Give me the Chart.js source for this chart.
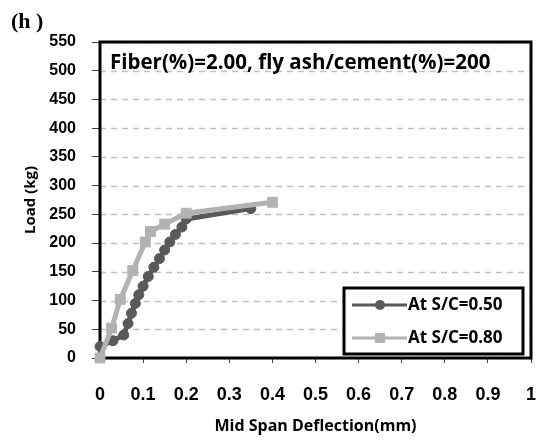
<!DOCTYPE html>
<html>
<head>
<meta charset="utf-8">
<script src="https://cdn.jsdelivr.net/npm/chart.js@4.4.0/dist/chart.umd.min.js"></script>
<style>
  html, body { margin: 0; padding: 0; background: #fff; }
  #wrap { width: 543px; height: 442px; position: relative; }
</style>
</head>
<body>
<div id="wrap"><canvas id="loadChart" width="543" height="442"></canvas></div>
<script>
// Mid span deflection (mm) vs load (kg)
const seriesNames = ['At S/C=0.50', 'At S/C=0.80'];

const deflection050 = [0, 0.03, 0.055, 0.065, 0.073, 0.082, 0.09, 0.1, 0.112, 0.125, 0.138, 0.15, 0.162, 0.175, 0.19, 0.2, 0.35];
const load050 = [20, 30, 40, 60, 78, 95, 110, 125, 142, 158, 173, 188, 202, 215, 228, 242, 260];

const deflection080 = [0, 0.027, 0.047, 0.076, 0.105, 0.117, 0.15, 0.2, 0.4];
const load080 = [0, 52, 102, 152, 202, 220, 233, 252, 271];

const xTickLabels = ['0', '0.1', '0.2', '0.3', '0.4', '0.5', '0.6', '0.7', '0.8', '0.9', '1'];
const yTickLabels = ['0', '50', '100', '150', '200', '250', '300', '350', '400', '450', '500', '550'];

const chartTitle = 'Fiber(%)=2.00, fly ash/cement(%)=200';
const panelLabel = '(h )';

const darkGrey = '#595959';
const lightGrey = '#b2b2b2';

function toPoints(xs, ys) {
  return xs.map((x, i) => ({ x: x, y: ys[i] }));
}

// dashed grid, frame, inner title, legend box and panel label
const decorations = {
  id: 'decorations',
  beforeDatasetsDraw(chart) {
    const { ctx, chartArea: a } = chart;
    const yScale = chart.scales.y;
    ctx.save();
    ctx.strokeStyle = '#c0c0c0';
    ctx.lineWidth = 1.5;
    ctx.setLineDash([6, 5]);
    yScale.ticks.forEach(t => {
      const py = Math.round(yScale.getPixelForValue(t.value)) + 0.5;
      ctx.beginPath();
      ctx.moveTo(a.left, py);
      ctx.lineTo(a.right, py);
      ctx.stroke();
    });
    ctx.setLineDash([]);
    ctx.strokeStyle = '#000';
    ctx.lineWidth = 3;
    ctx.strokeRect(a.left, a.top, a.right - a.left, a.bottom - a.top);
    ctx.fillStyle = '#000';
    ctx.font = 'bold 20.5px "Open Sans"';
    ctx.textBaseline = 'middle';
    ctx.textAlign = 'left';
    ctx.fillText(chartTitle, a.left + 10, a.top + 21);
    ctx.restore();
  },
  afterDatasetsDraw(chart) {
    const { ctx } = chart;
    ctx.save();
    // legend box
    const bx = 344, by = 288, bw = 179, bh = 66;
    ctx.fillStyle = '#fff';
    ctx.fillRect(bx, by, bw, bh);
    ctx.strokeStyle = '#000';
    ctx.lineWidth = 3;
    ctx.strokeRect(bx, by, bw, bh);
    const rows = [by + 17, by + 50];
    chart.data.datasets.forEach((ds, i) => {
      const y = rows[i];
      ctx.strokeStyle = ds.borderColor;
      ctx.lineWidth = 3;
      ctx.beginPath();
      ctx.moveTo(bx + 8, y);
      ctx.lineTo(bx + 63, y);
      ctx.stroke();
      ctx.fillStyle = ds.borderColor;
      if (ds.pointStyle === 'rect') {
        ctx.fillRect(bx + 31, y - 5, 10, 10);
      } else {
        ctx.beginPath();
        ctx.arc(bx + 36, y, 5, 0, Math.PI * 2);
        ctx.fill();
      }
      ctx.fillStyle = '#000';
      ctx.font = 'bold 17px "Open Sans"';
      ctx.textBaseline = 'middle';
      ctx.fillText(ds.label, bx + 64, y);
    });
    // panel label
    ctx.font = 'bold 22px "Liberation Serif"';
    ctx.textBaseline = 'alphabetic';
    ctx.fillStyle = '#000';
    ctx.fillText(panelLabel, 11, 28);
    ctx.restore();
  }
};

window.onload = function () {
  const ctx = document.getElementById('loadChart').getContext('2d');
  new Chart(ctx, {
    type: 'scatter',
    data: {
      datasets: [
        {
          label: seriesNames[0],
          data: toPoints(deflection050, load050),
          showLine: true,
          borderColor: darkGrey,
          backgroundColor: darkGrey,
          borderWidth: 5,
          pointStyle: 'circle',
          pointRadius: 5,
          pointBorderWidth: 1,
          clip: false,
          order: 1
        },
        {
          label: seriesNames[1],
          data: toPoints(deflection080, load080),
          showLine: true,
          borderColor: lightGrey,
          backgroundColor: lightGrey,
          borderWidth: 5,
          pointStyle: 'rect',
          pointRadius: 7,
          pointBorderWidth: 1,
          clip: false,
          order: 0
        }
      ]
    },
    options: {
      responsive: false,
      animation: false,
      layout: { padding: { left: 0, right: 12, top: 42, bottom: 0 } },
      plugins: {
        legend: { display: false },
        tooltip: { enabled: false }
      },
      scales: {
        x: {
          type: 'linear',
          min: 0,
          max: 1,
          afterFit(scale) {
            scale.height = 84;
            // keep the last label from shrinking the plot
            scale.paddingLeft = 0;
            scale.paddingRight = 12;
          },
          afterBuildTicks(scale) {
            scale.ticks = xTickLabels.map(t => ({ value: parseFloat(t) }));
          },
          ticks: {
            autoSkip: false,
            maxRotation: 0,
            padding: 21,
            color: '#000',
            font: { family: 'Liberation Sans', size: 18, weight: 'bold' },
            callback: (v, i) => xTickLabels[i]
          },
          grid: { drawOnChartArea: false, drawTicks: true, tickLength: 5, tickColor: '#404040' },
          border: { display: false },
          title: {
            display: true,
            text: 'Mid Span Deflection(mm)',
            color: '#000',
            font: { family: 'Open Sans', size: 16, weight: 'bold' },
            padding: { top: 0, bottom: 6 }
          }
        },
        y: {
          min: 0,
          max: 550,
          afterFit(scale) { scale.width = 100; },
          afterBuildTicks(scale) {
            scale.ticks = yTickLabels.map(t => ({ value: parseFloat(t) }));
          },
          ticks: {
            autoSkip: false,
            padding: 16,
            color: '#000',
            font: { family: 'Liberation Sans', size: 16, weight: 'bold' },
            callback: (v, i) => yTickLabels[i]
          },
          grid: {
            drawOnChartArea: false,
            tickLength: 8,
            tickColor: '#404040'
          },
          border: { display: false },
          title: {
            display: true,
            text: 'Load (kg)',
            color: '#000',
            font: { family: 'Open Sans', size: 15, weight: 'bold' },
            padding: { top: 22, bottom: 0 }
          }
        }
      }
    },
    plugins: [decorations]
  });
};
</script>
</body>
</html>
